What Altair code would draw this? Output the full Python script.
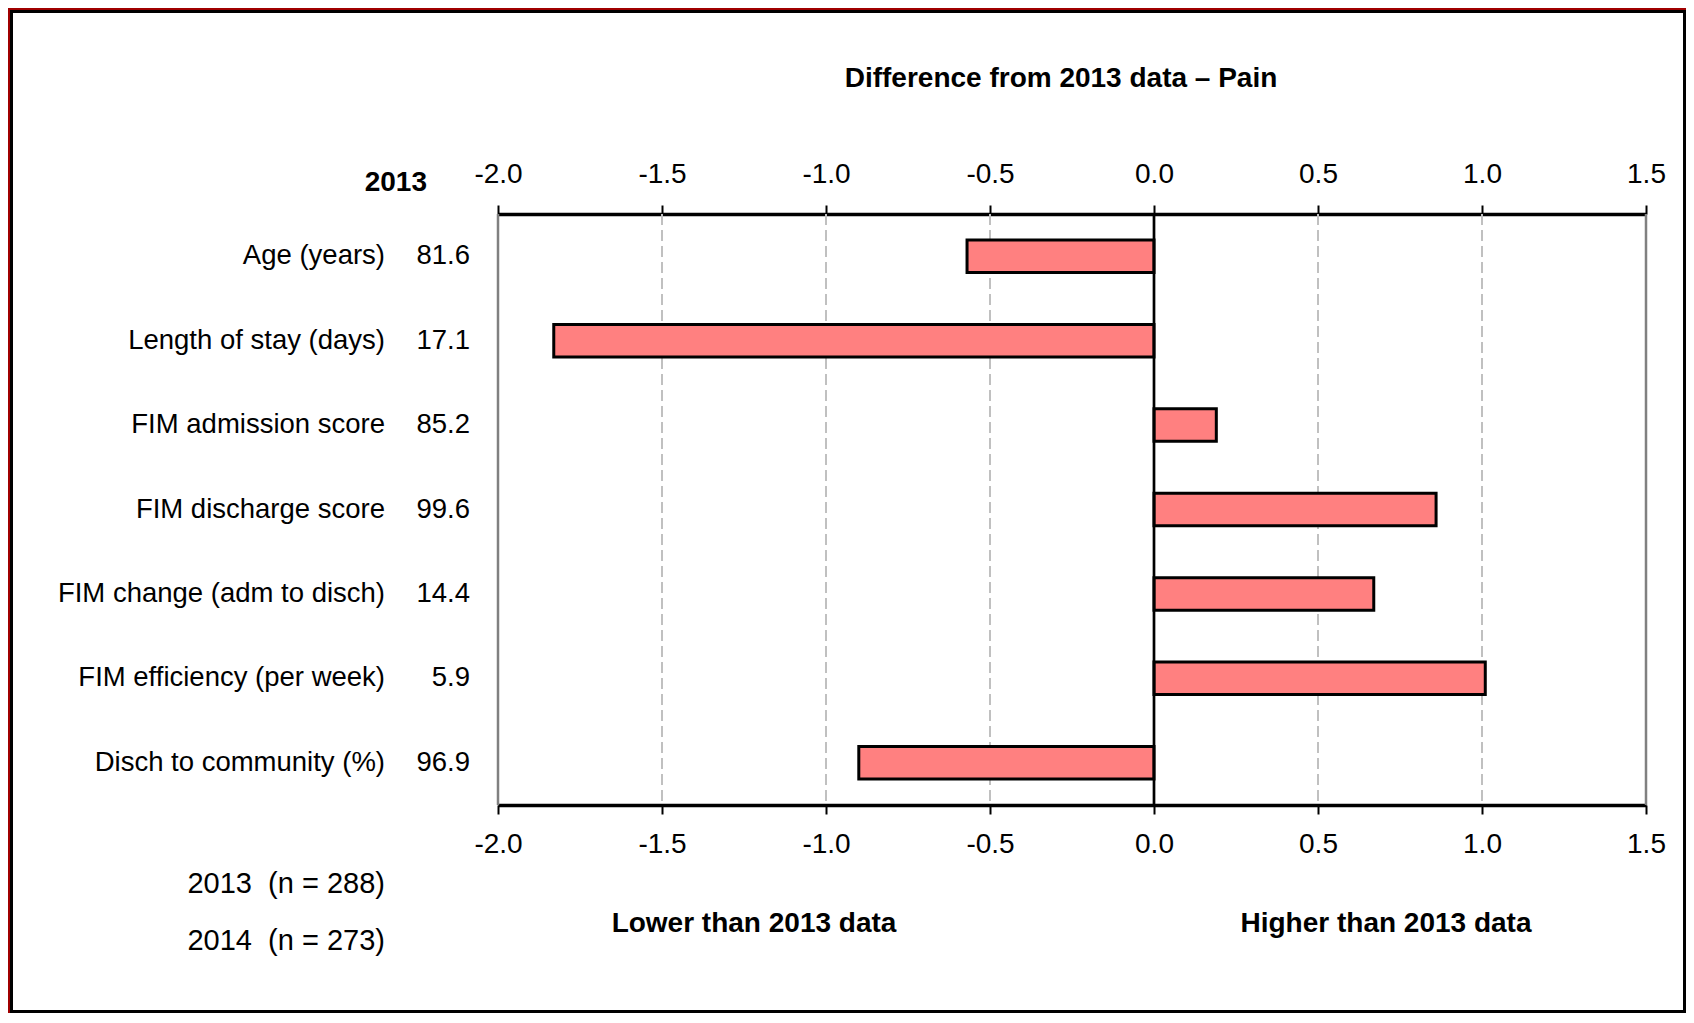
import altair as alt
import pandas as pd

# ---------------- data ----------------
categories = [
    "Age (years)",
    "Length of stay (days)",
    "FIM admission score",
    "FIM discharge score",
    "FIM change (adm to disch)",
    "FIM efficiency (per week)",
    "Disch to community (%)",
]
values_2013 = ["81.6", "17.1", "85.2", "99.6", "14.4", "5.9", "96.9"]
differences = [-0.57, -1.83, 0.19, 0.86, 0.67, 1.01, -0.90]

tick_values = [-2.0, -1.5, -1.0, -0.5, 0.0, 0.5, 1.0, 1.5]
grid_values = [-1.5, -1.0, -0.5, 0.5, 1.0]
edge_values = [-2.0, 1.5]
zero_value = [0.0]

title_text = ["Difference from 2013 data \u2013 Pain"]
header_text = ["2013"]
n_labels = ["2013\u00a0\u00a0(n = 288)", "2014\u00a0\u00a0(n = 273)"]
lower_text = ["Lower than 2013 data"]
higher_text = ["Higher than 2013 data"]

# ---------------- styling ----------------
FONT = "'Liberation Sans', Arial, sans-serif"
W, H = 1148, 591
PAD = {"left": 490, "top": 206, "right": 40, "bottom": 208}

bars_df = pd.DataFrame({"category": categories, "value2013": values_2013, "diff": differences})

xscale = alt.Scale(domain=[-2.0, 1.5], nice=False, zero=False)
yscale = alt.Scale(domain=categories, paddingInner=0.615, paddingOuter=0.3075)
label_expr = "replace(format(datum.value, '.1f'), '\u2212', '-')"


def x_axis(orient, pad):
    return alt.Axis(
        orient=orient, values=tick_values, labelExpr=label_expr, title=None,
        grid=False, domainColor="black", domainWidth=3.5, tickColor="black",
        tickWidth=2, tickSize=9, labelFontSize=28, labelFont=FONT,
        labelColor="black", labelPadding=pad, labelFlush=False, labelOverlap=False,
    )


Y = alt.Y("category:N", sort=categories, scale=yscale, axis=None)

one = pd.DataFrame({"k": [0]})

# frame
frame = alt.Chart(one).mark_rect(fillOpacity=0, stroke="black", strokeWidth=3).encode(
    x=alt.value(-486.5), x2=alt.value(1186.5), y=alt.value(-202.5), y2=alt.value(797.5)
)
red_top = alt.Chart(one).mark_rule(color="#A00000", strokeWidth=2).encode(
    x=alt.value(-490), x2=alt.value(1188), y=alt.value(-205)
)
red_left = alt.Chart(one).mark_rule(color="#A00000", strokeWidth=2).encode(
    x=alt.value(-489), y=alt.value(-206), y2=alt.value(799)
)

grid = alt.Chart(pd.DataFrame({"v": grid_values})).mark_rule(
    color="#C0C0C0", strokeWidth=2, strokeDash=[11, 5]
).encode(x=alt.X("v:Q", scale=xscale, axis=None))

edges = alt.Chart(pd.DataFrame({"v": edge_values})).mark_rule(
    color="#808080", strokeWidth=2.5
).encode(x=alt.X("v:Q", scale=xscale, axis=x_axis("top", 17)))

bars = alt.Chart(bars_df).mark_bar(
    fill="#FF8080", stroke="black", strokeWidth=3
).encode(x=alt.X("diff:Q", scale=xscale, axis=x_axis("bottom", 16)), y=Y)

zero = alt.Chart(pd.DataFrame({"v": zero_value})).mark_rule(
    color="black", strokeWidth=2.7
).encode(x=alt.X("v:Q", scale=xscale, axis=None))

cat_text = alt.Chart(bars_df).mark_text(
    align="right", baseline="middle", font=FONT, fontSize=27.5, color="black"
).encode(y=Y, x=alt.value(-113), text="category:N")

val_text = alt.Chart(bars_df).mark_text(
    align="right", baseline="middle", font=FONT, fontSize=27.5, color="black"
).encode(y=Y, x=alt.value(-28), text="value2013:N")

title = alt.Chart(pd.DataFrame({"t": title_text})).mark_text(
    align="center", baseline="middle", font=FONT, fontSize=28, fontWeight="bold", color="black"
).encode(x=alt.value(563), y=alt.value(-135), text="t:N")

header = alt.Chart(pd.DataFrame({"t": header_text})).mark_text(
    align="right", baseline="middle", font=FONT, fontSize=28, fontWeight="bold", color="black"
).encode(x=alt.value(-71), y=alt.value(-31), text="t:N")

n1 = alt.Chart(pd.DataFrame({"t": n_labels[:1]})).mark_text(
    align="right", baseline="middle", font=FONT, fontSize=29, color="black"
).encode(x=alt.value(-113), y=alt.value(670), text="t:N")

n2 = alt.Chart(pd.DataFrame({"t": n_labels[1:]})).mark_text(
    align="right", baseline="middle", font=FONT, fontSize=29, color="black"
).encode(x=alt.value(-113), y=alt.value(727), text="t:N")

lower = alt.Chart(pd.DataFrame({"t": lower_text})).mark_text(
    align="center", baseline="middle", font=FONT, fontSize=28, fontWeight="bold", color="black"
).encode(x=alt.value(256), y=alt.value(710), text="t:N")

higher = alt.Chart(pd.DataFrame({"t": higher_text})).mark_text(
    align="center", baseline="middle", font=FONT, fontSize=28, fontWeight="bold", color="black"
).encode(x=alt.value(888), y=alt.value(710), text="t:N")

chart = alt.layer(
    frame, red_top, red_left, grid, edges, bars, zero,
    cat_text, val_text, title, header, n1, n2, lower, higher,
).resolve_axis(x="independent").properties(
    width=W, height=H, padding=PAD, autosize=alt.AutoSizeParams(type="none")
).configure_view(stroke=None).configure(background="white")

chart.save("out.html", embed_options={"renderer": "svg", "actions": False})
